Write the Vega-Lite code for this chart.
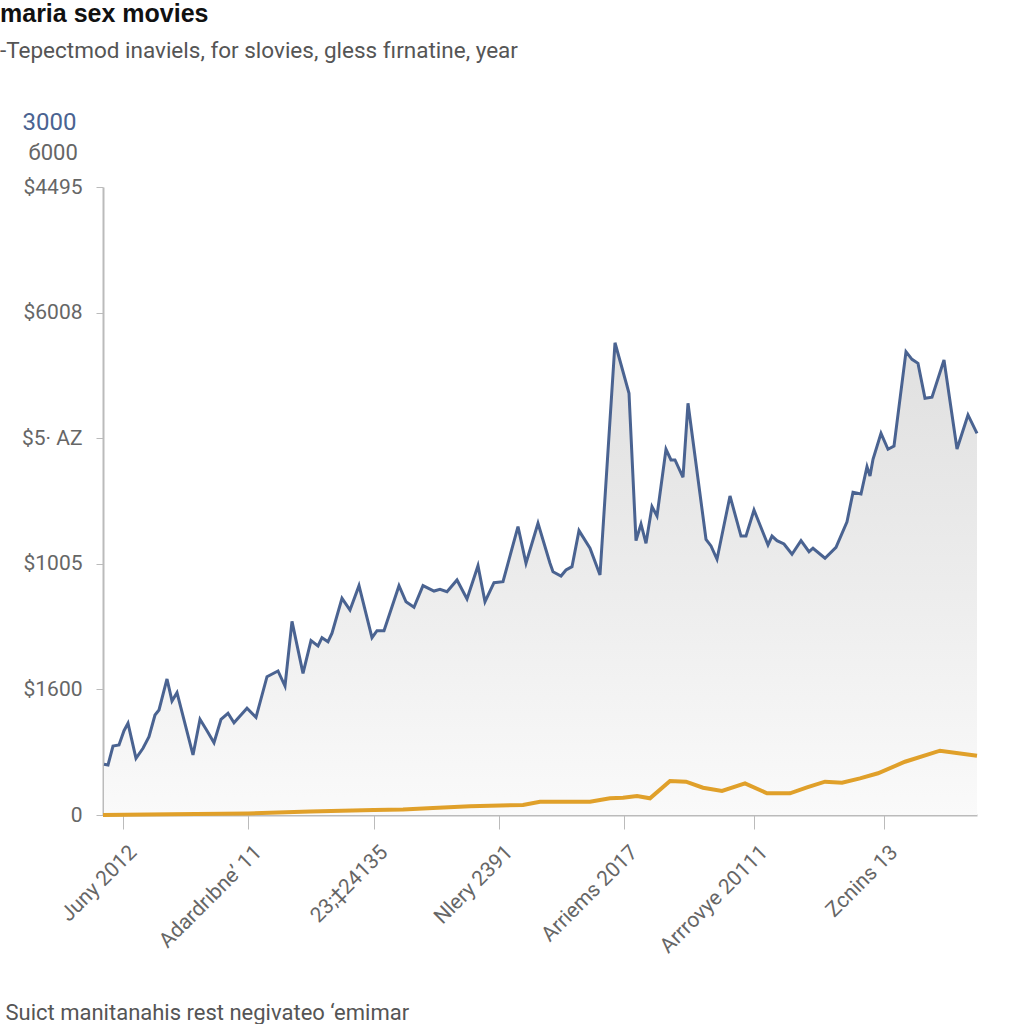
{
  "$schema": "https://vega.github.io/schema/vega-lite/v6.json",
  "width": 874,
  "height": 628,
  "autosize": {"type": "none"},
  "padding": {"left": 103, "top": 187, "right": 47, "bottom": 209},
  "background": "#ffffff",
  "config": {"view": {"stroke": null}, "font": "Roboto"},
  "title": {
    "text": "maria sex movies",
    "subtitle": "-Tepectmod inaviels, for slovies, gless fırnatine, year",
    "anchor": "start",
    "frame": "group",
    "dx": -103,
    "offset": 48,
    "font": "Liberation Sans",
    "fontSize": 25,
    "fontWeight": "bold",
    "color": "#111111",
    "subtitleFont": "Roboto",
    "subtitleFontSize": 22.5,
    "subtitleColor": "#555555",
    "subtitlePadding": 13
  },
  "data": {
    "values": [
      {"s": "a", "t": 1, "v": 404}, {"s": "a", "t": 5, "v": 398}, {"s": "a", "t": 10, "v": 549}, {"s": "a", "t": 16, "v": 557},
      {"s": "a", "t": 21, "v": 671}, {"s": "a", "t": 25, "v": 730}, {"s": "a", "t": 33, "v": 451}, {"s": "a", "t": 40, "v": 531},
      {"s": "a", "t": 46, "v": 623}, {"s": "a", "t": 52, "v": 796}, {"s": "a", "t": 56, "v": 836}, {"s": "a", "t": 64, "v": 1083},
      {"s": "a", "t": 69, "v": 908}, {"s": "a", "t": 74, "v": 974}, {"s": "a", "t": 90, "v": 478}, {"s": "a", "t": 97, "v": 762},
      {"s": "a", "t": 104, "v": 671}, {"s": "a", "t": 111, "v": 576}, {"s": "a", "t": 118, "v": 762}, {"s": "a", "t": 125, "v": 810},
      {"s": "a", "t": 131, "v": 735}, {"s": "a", "t": 144, "v": 850}, {"s": "a", "t": 153, "v": 778}, {"s": "a", "t": 164, "v": 1101},
      {"s": "a", "t": 175, "v": 1147}, {"s": "a", "t": 182, "v": 1027}, {"s": "a", "t": 189, "v": 1542}, {"s": "a", "t": 200, "v": 1128},
      {"s": "a", "t": 208, "v": 1388}, {"s": "a", "t": 215, "v": 1346}, {"s": "a", "t": 219, "v": 1412}, {"s": "a", "t": 225, "v": 1380},
      {"s": "a", "t": 229, "v": 1447}, {"s": "a", "t": 239, "v": 1725}, {"s": "a", "t": 247, "v": 1632}, {"s": "a", "t": 256, "v": 1826},
      {"s": "a", "t": 269, "v": 1412}, {"s": "a", "t": 274, "v": 1467}, {"s": "a", "t": 281, "v": 1467}, {"s": "a", "t": 296, "v": 1826},
      {"s": "a", "t": 303, "v": 1698}, {"s": "a", "t": 311, "v": 1654}, {"s": "a", "t": 320, "v": 1826}, {"s": "a", "t": 331, "v": 1783},
      {"s": "a", "t": 337, "v": 1797}, {"s": "a", "t": 344, "v": 1778}, {"s": "a", "t": 354, "v": 1871}, {"s": "a", "t": 364, "v": 1720},
      {"s": "a", "t": 375, "v": 1985}, {"s": "a", "t": 382, "v": 1698}, {"s": "a", "t": 391, "v": 1850}, {"s": "a", "t": 400, "v": 1858},
      {"s": "a", "t": 415, "v": 2296}, {"s": "a", "t": 423, "v": 2004}, {"s": "a", "t": 435, "v": 2323}, {"s": "a", "t": 447, "v": 2004},
      {"s": "a", "t": 450, "v": 1937}, {"s": "a", "t": 458, "v": 1903}, {"s": "a", "t": 463, "v": 1951}, {"s": "a", "t": 469, "v": 1977},
      {"s": "a", "t": 476, "v": 2264}, {"s": "a", "t": 487, "v": 2124}, {"s": "a", "t": 497, "v": 1911}, {"s": "a", "t": 512, "v": 3760},
      {"s": "a", "t": 526, "v": 3358}, {"s": "a", "t": 533, "v": 2184}, {"s": "a", "t": 538, "v": 2317}, {"s": "a", "t": 543, "v": 2163},
      {"s": "a", "t": 549, "v": 2455}, {"s": "a", "t": 554, "v": 2381}, {"s": "a", "t": 563, "v": 2912}, {"s": "a", "t": 568, "v": 2827},
      {"s": "a", "t": 572, "v": 2827}, {"s": "a", "t": 580, "v": 2689}, {"s": "a", "t": 585, "v": 3278}, {"s": "a", "t": 603, "v": 2195},
      {"s": "a", "t": 608, "v": 2142}, {"s": "a", "t": 614, "v": 2036}, {"s": "a", "t": 627, "v": 2540}, {"s": "a", "t": 638, "v": 2221},
      {"s": "a", "t": 643, "v": 2221}, {"s": "a", "t": 651, "v": 2428}, {"s": "a", "t": 665, "v": 2150}, {"s": "a", "t": 669, "v": 2221},
      {"s": "a", "t": 674, "v": 2184}, {"s": "a", "t": 681, "v": 2158}, {"s": "a", "t": 689, "v": 2076}, {"s": "a", "t": 698, "v": 2184},
      {"s": "a", "t": 706, "v": 2096}, {"s": "a", "t": 710, "v": 2124}, {"s": "a", "t": 722, "v": 2044}, {"s": "a", "t": 733, "v": 2131},
      {"s": "a", "t": 744, "v": 2335}, {"s": "a", "t": 750, "v": 2569}, {"s": "a", "t": 758, "v": 2556}, {"s": "a", "t": 764, "v": 2773},
      {"s": "a", "t": 767, "v": 2699}, {"s": "a", "t": 770, "v": 2832}, {"s": "a", "t": 778, "v": 3039}, {"s": "a", "t": 785, "v": 2912},
      {"s": "a", "t": 791, "v": 2938}, {"s": "a", "t": 803, "v": 3689}, {"s": "a", "t": 809, "v": 3628}, {"s": "a", "t": 815, "v": 3596},
      {"s": "a", "t": 822, "v": 3318}, {"s": "a", "t": 829, "v": 3326}, {"s": "a", "t": 841, "v": 3623}, {"s": "a", "t": 854, "v": 2914},
      {"s": "a", "t": 865, "v": 3185}, {"s": "a", "t": 874, "v": 3039},
      {"s": "b", "t": 0, "v": 0}, {"s": "b", "t": 67, "v": 5}, {"s": "b", "t": 145, "v": 12}, {"s": "b", "t": 207, "v": 28},
      {"s": "b", "t": 271, "v": 40}, {"s": "b", "t": 300, "v": 44}, {"s": "b", "t": 330, "v": 55}, {"s": "b", "t": 367, "v": 70},
      {"s": "b", "t": 420, "v": 80}, {"s": "b", "t": 437, "v": 106}, {"s": "b", "t": 487, "v": 106}, {"s": "b", "t": 507, "v": 133},
      {"s": "b", "t": 520, "v": 138}, {"s": "b", "t": 534, "v": 151}, {"s": "b", "t": 547, "v": 133}, {"s": "b", "t": 567, "v": 271},
      {"s": "b", "t": 583, "v": 265}, {"s": "b", "t": 600, "v": 217}, {"s": "b", "t": 619, "v": 191}, {"s": "b", "t": 642, "v": 252},
      {"s": "b", "t": 664, "v": 173}, {"s": "b", "t": 687, "v": 173}, {"s": "b", "t": 704, "v": 220}, {"s": "b", "t": 722, "v": 265},
      {"s": "b", "t": 739, "v": 257}, {"s": "b", "t": 757, "v": 292}, {"s": "b", "t": 775, "v": 332}, {"s": "b", "t": 802, "v": 424},
      {"s": "b", "t": 837, "v": 512}, {"s": "b", "t": 874, "v": 472}
    ]
  },
  "encoding": {
    "x": {
      "field": "t",
      "type": "quantitative",
      "scale": {"domain": [0, 874], "nice": false, "zero": false},
      "axis": {
        "values": [20, 145, 271, 396, 521, 651, 781],
        "labelExpr": "datum.value==20?'Juny 2012':datum.value==145?'Adardrıbne\\u2019 11':datum.value==271?'23;\\u202124135':datum.value==396?'Nlery 2391':datum.value==521?'Arriems 2017':datum.value==651?'Arrrovye 20111':'Zcnins 13'",
        "labelAngle": -45,
        "labelAlign": "right",
        "labelBaseline": "middle",
        "labelFontSize": 21,
        "labelColor": "#666666",
        "labelPadding": 20,
        "labelOffset": 10,
        "tickSize": 14,
        "tickColor": "#bbbbbb",
        "domainColor": "#bbbbbb",
        "domainWidth": 2,
        "grid": false,
        "title": "Suict manitanahis rest negivateo \u2018emimar",
        "titleAnchor": "start",
        "titleAlign": "left",
        "titleBaseline": "middle",
        "titleX": -98,
        "titleY": 197,
        "titleFontSize": 22,
        "titleFontWeight": "normal",
        "titleColor": "#555555"
      }
    }
  },
  "layer": [
    {
      "transform": [{"filter": "datum.s == 'a'"}],
      "mark": {
        "type": "area",
        "color": {
          "gradient": "linear",
          "x1": 0, "y1": 0, "x2": 0, "y2": 1,
          "stops": [
            {"offset": 0, "color": "#e0e0e0"},
            {"offset": 0.5, "color": "#ececec"},
            {"offset": 1, "color": "#fafafa"}
          ]
        }
      },
      "encoding": {
        "y": {
          "field": "v",
          "type": "quantitative",
          "scale": {"domain": [0, 5000], "nice": false},
          "axis": {
            "orient": "left",
            "values": [0, 1000, 2000, 3000, 4000, 5000],
            "labelExpr": "datum.value==0?'0':datum.value==1000?'$1600':datum.value==2000?'$1005':datum.value==3000?'$5\\u00b7 AZ':datum.value==4000?'$6008':'$4495'",
            "labelFontSize": 21,
            "labelColor": "#666666",
            "labelPadding": 14,
            "tickSize": 7,
            "tickColor": "#bbbbbb",
            "domainColor": "#bbbbbb",
            "domainWidth": 2,
            "grid": false,
            "title": "3000",
            "titleAngle": 0,
            "titleAlign": "left",
            "titleBaseline": "middle",
            "titleX": -81,
            "titleY": -65,
            "titleFontSize": 24,
            "titleFontWeight": "normal",
            "titleColor": "#4a6391"
          }
        }
      }
    },
    {
      "transform": [{"filter": "datum.s == 'a'"}],
      "mark": {"type": "line", "color": "#4a6391", "strokeWidth": 3, "strokeJoin": "miter"},
      "encoding": {
        "y": {
          "field": "v",
          "type": "quantitative",
          "scale": {"domain": [0, 5000], "nice": false},
          "axis": {
            "orient": "left",
            "labels": false,
            "ticks": false,
            "domain": false,
            "grid": false,
            "title": "\u0431000",
            "titleAngle": 0,
            "titleAlign": "left",
            "titleBaseline": "middle",
            "titleX": -75,
            "titleY": -35,
            "titleFontSize": 22,
            "titleFontWeight": "normal",
            "titleColor": "#666666"
          }
        }
      }
    },
    {
      "transform": [{"filter": "datum.s == 'b'"}],
      "mark": {"type": "line", "color": "#e0a02a", "strokeWidth": 4},
      "encoding": {
        "y": {
          "field": "v",
          "type": "quantitative",
          "scale": {"domain": [0, 5000], "nice": false},
          "axis": null
        }
      }
    }
  ],
  "resolve": {"axis": {"y": "independent"}}
}
